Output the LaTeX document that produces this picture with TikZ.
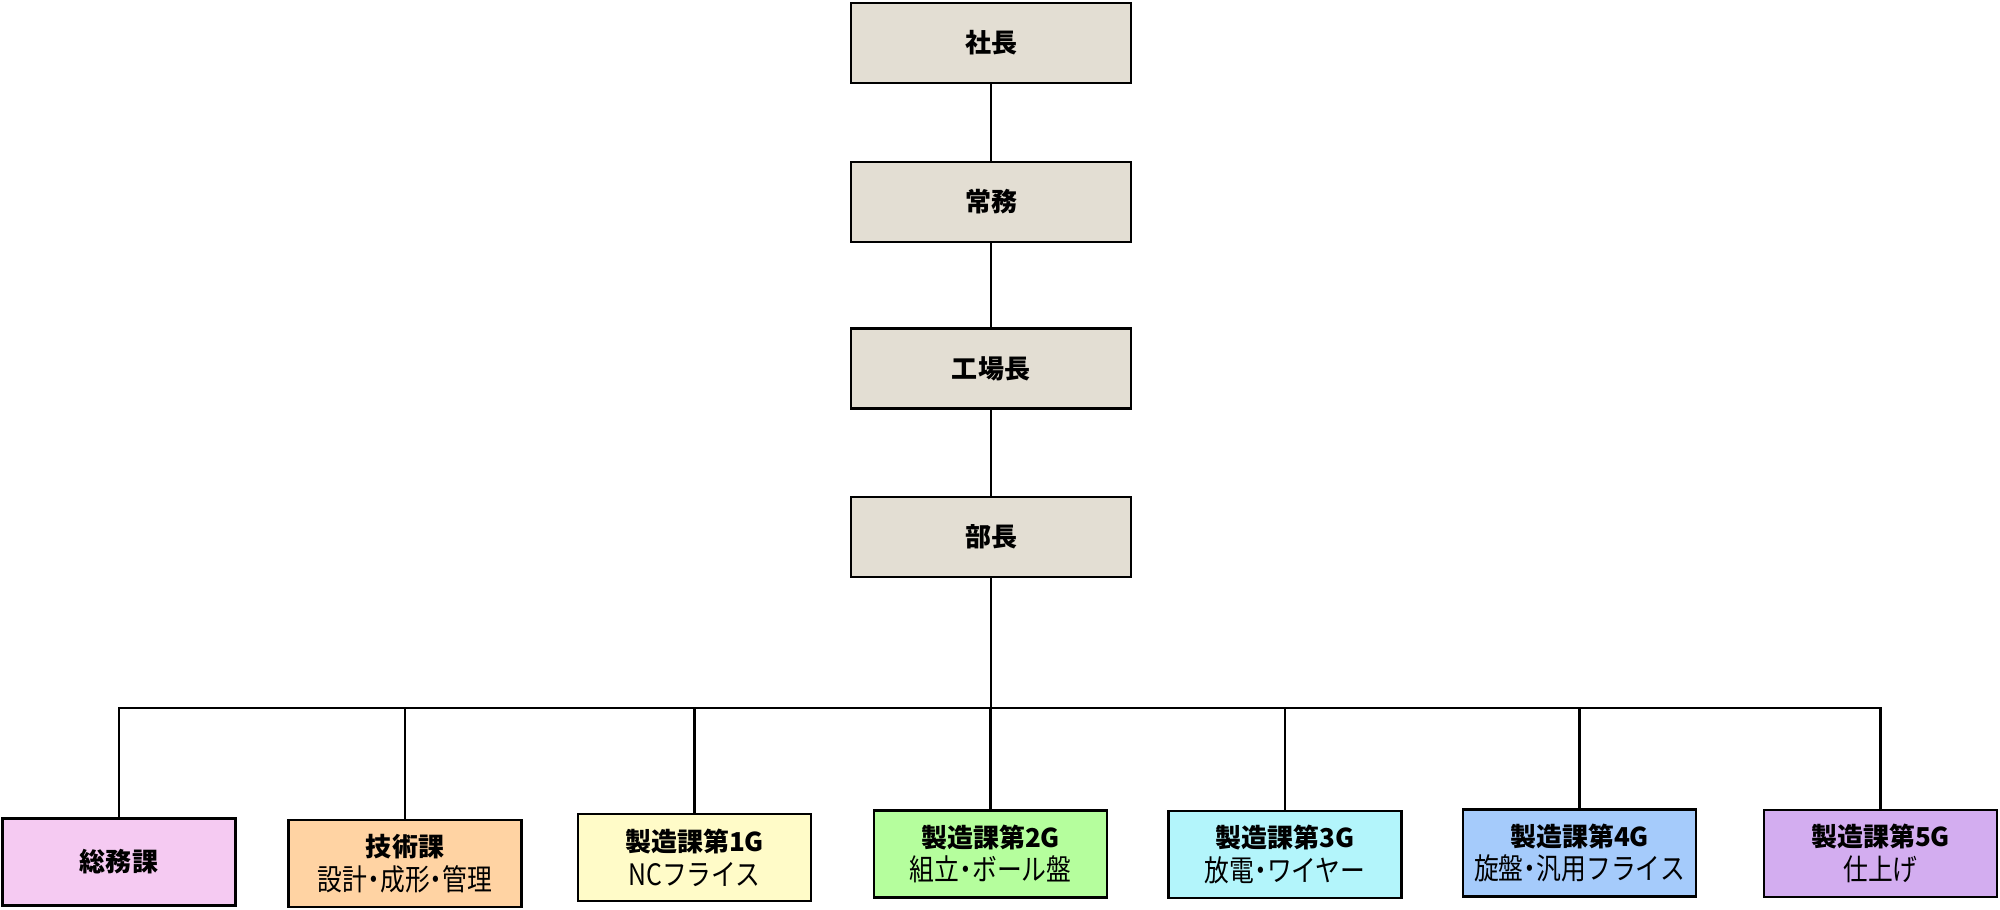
\documentclass[tikz,border=0pt]{standalone}
\usepackage{xcolor}
\usepackage{fontspec}
\usepackage{tikz}
\newfontfamily\jpfont{Noto Sans CJK JP}
\newfontfamily\jpnarrow[FakeStretch=0.84]{Noto Sans CJK JP}
\newcommand{\sub}[1]{{\jpnarrow\fontsize{8.4}{9.6}\selectfont #1}}
\newcommand{\dt}{\hspace{-0.2em}・\hspace{-0.2em}}
\definecolor{exec}{HTML}{E3DED3}
\definecolor{soumuc}{HTML}{F5CAF2}
\definecolor{gijutsuc}{HTML}{FFD3A3}
\definecolor{g1c}{HTML}{FFFBC8}
\definecolor{g2c}{HTML}{B5FE9D}
\definecolor{g3c}{HTML}{B3F5FB}
\definecolor{g4c}{HTML}{A5CBFB}
\definecolor{g5c}{HTML}{D3ADF0}

\begin{document}
\begin{tikzpicture}[
  post/.style={rectangle, draw=black, fill=exec, minimum width=2.8cm, minimum height=0.8cm, line width=0.8pt, font={\jpfont\bfseries\fontsize{7.4}{9}\selectfont}},
  dept/.style={rectangle, draw=black, minimum width=2.33cm, minimum height=0.87cm, line width=0.8pt, align=center, inner sep=1pt, font={\jpfont\fontsize{7.4}{9.6}\selectfont}},
  conn/.style={black, line width=0.6pt}
]
\useasboundingbox (0,0) rectangle (20,9.1);
\node[post] (shacho) at (9.91,8.67) {社長};
\node[post] (jomu) at (9.91,7.08) {常務};
\node[post] (kojocho) at (9.91,5.415) {工場長};
\node[post] (bucho) at (9.91,3.73) {部長};

\node[dept, fill=soumuc] (soumu) at (1.19,0.48) {\bfseries 総務課};
\node[dept, fill=gijutsuc] (gijutsu) at (4.05,0.465) {{\bfseries 技術課}\\\sub{設計\dt 成形\dt 管理}};
\node[dept, fill=g1c] (g1) at (6.945,0.525) {{\bfseries 製造課第1G}\\\sub{NCフライス}};
\node[dept, fill=g2c] (g2) at (9.905,0.56) {{\bfseries 製造課第2G}\\\sub{組立\dt ボール盤}};
\node[dept, fill=g3c] (g3) at (12.85,0.555) {{\bfseries 製造課第3G}\\\sub{放電\dt ワイヤー}};
\node[dept, fill=g4c] (g4) at (15.795,0.57) {{\bfseries 製造課第4G}\\\sub{旋盤\dt 汎用フライス}};
\node[dept, fill=g5c] (g5) at (18.805,0.565) {{\bfseries 製造課第5G}\\\sub{仕上げ}};

\coordinate (bus) at (9.91,2.02);

\draw[conn] (shacho) -- (jomu);
\draw[conn] (jomu) -- (kojocho);
\draw[conn] (kojocho) -- (bucho);
\draw[conn] (bucho) -- (bus);
\foreach \d in {soumu,gijutsu,g1,g2,g3,g4,g5}
  \draw[conn] (\d.north) |- (bus);
\end{tikzpicture}
\end{document}
